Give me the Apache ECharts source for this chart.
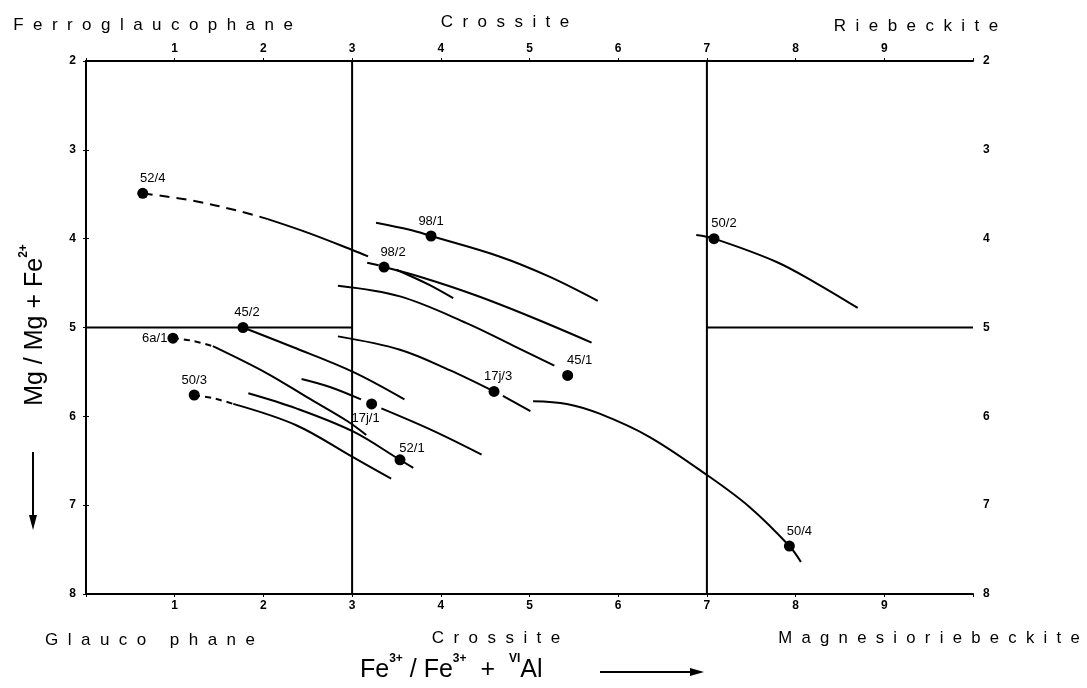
<!DOCTYPE html>
<html><head><meta charset="utf-8">
<script src="https://cdn.jsdelivr.net/npm/echarts@6/dist/echarts.min.js"></script>
<style>html,body{margin:0;padding:0;background:#fff}#c{width:1087px;height:688px}</style>
</head><body><div id="c"></div><script>
// ---- data ----
const xTickLabels = [1,2,3,4,5,6,7,8,9];
const yTickLabels = [2,3,4,5,6,7,8];
const topFieldNames = ['Ferroglaucophane','Crossite','Riebeckite'];
const bottomFieldNames = ['Glauco phane','Crossite','Magnesioriebeckite'];

const boundaryX3 = [[3,2],[3,8]];
const boundaryX7 = [[7,2],[7,8]];
const boundaryY5Left = [[0,5],[3,5]];
const boundaryY5Right = [[7,5],[10,5]];

const sampleNames = ['52/4','98/1','98/2','45/2','6a/1','50/3','17j/1','52/1','17j/3','45/1','50/2','50/4'];
const sampleX = [0.64,3.89,3.36,1.77,0.98,1.22,3.22,3.54,4.60,5.43,7.08,7.93];
const sampleY = [3.49,3.97,4.32,5.00,5.12,5.76,5.86,6.49,5.72,5.54,4.00,7.46];

const curve52_4Dashed = [[0.64,3.49],[1.19,3.57],[1.73,3.69],[2.05,3.78]];
const curve52_4Solid = [[2.05,3.78],[2.52,3.94],[3.01,4.13],[3.18,4.20]];
const curve52_4Tail = [[3.17,4.27],[3.30,4.30]];
const curve98_1 = [[3.27,3.82],[3.65,3.90],[3.89,3.97],[4.66,4.20],[5.23,4.43],[5.77,4.70]];
const curve98_2Upper = [[3.36,4.32],[3.80,4.44],[4.40,4.64],[5.04,4.89],[5.70,5.17]];
const curve98_2Lower = [[3.50,4.35],[3.87,4.52],[4.14,4.67]];
const curve45_1 = [[2.84,4.53],[3.54,4.65],[4.29,4.95],[4.85,5.22],[5.28,5.43]];
const curve17j_3 = [[2.84,5.10],[3.54,5.25],[4.10,5.48],[4.60,5.72]];
const curve17j_3Tail = [[4.70,5.77],[5.01,5.94]];
const curve50_4 = [[5.04,5.83],[5.42,5.86],[5.79,5.97],[6.35,6.23],[7.00,6.66],[7.48,7.02],[7.93,7.46],[8.06,7.64]];
const curve50_2 = [[6.88,3.96],[7.08,4.00],[7.78,4.26],[8.23,4.50],[8.70,4.78]];
const curve45_2 = [[1.77,5.00],[2.33,5.22],[3.01,5.50],[3.59,5.81]];
const curve6a_1Dashed = [[0.98,5.12],[1.20,5.15],[1.43,5.21]];
const curve6a_1Solid = [[1.43,5.21],[2.03,5.51],[2.50,5.79],[2.94,6.05],[3.16,6.21]];
const curve52_1 = [[1.83,5.74],[2.37,5.91],[3.01,6.17],[3.54,6.49],[3.69,6.58]];
const curve50_3Dashed = [[1.22,5.76],[1.45,5.80],[1.66,5.86]];
const curve50_3Solid = [[1.66,5.86],[2.37,6.10],[3.01,6.46],[3.44,6.70]];
const curve17j_1Lead = [[2.43,5.58],[2.75,5.67],[3.10,5.81]];
const curve17j_1Trail = [[3.33,5.91],[3.91,6.16],[4.46,6.43]];

// ---- styling (separate from data) ----
const FONT = '"Liberation Sans", Arial, sans-serif';
const labelPlacement = {
  '52/4':{position:'top',offset:[10,0]},
  '98/1':{position:'top',offset:[0,0]},
  '98/2':{position:'top',offset:[9,0]},
  '45/2':{position:'top',offset:[4,0]},
  '6a/1':{position:'left',offset:[3,0]},
  '50/3':{position:'top',offset:[0,0]},
  '17j/1':{position:'bottom',offset:[-6,0]},
  '52/1':{position:'top',offset:[12,4]},
  '17j/3':{position:'top',offset:[4,0]},
  '45/1':{position:'top',offset:[12,0]},
  '50/2':{position:'top',offset:[10,0]},
  '50/4':{position:'top',offset:[10,0]}
};
const spaced = s => s.split('').join('  ');

const chart = echarts.init(document.getElementById('c'), null, {renderer:'canvas'});

function curve(data, dashed, dash){
  return {type:'line', data, smooth:0.35, symbol:'none', silent:true, z:3,
    lineStyle:{color:'#000', width:2, opacity:1, type: dashed ? (dash||[9,6]) : 'solid'}};
}
function boundary(data){
  return {type:'line', data, symbol:'none', silent:true, z:2,
    lineStyle:{color:'#000', width:2}};
}

const xAxisBase = {
  type:'value', min:0, max:10, interval:1,
  axisLine:{show:true, lineStyle:{color:'#000', width:2}},
  axisTick:{show:true, length:3, lineStyle:{color:'#000', width:1}},
  splitLine:{show:false},
  axisLabel:{color:'#000', fontSize:12, fontWeight:'bold', fontFamily:FONT, margin:6,
    formatter: v => xTickLabels.includes(v) ? String(v) : ''}
};
const yAxisBase = {
  type:'value', min:2, max:8, interval:1, inverse:true,
  axisLine:{show:true, lineStyle:{color:'#000', width:2}},
  axisTick:{show:true, length:3, lineStyle:{color:'#000', width:1}},
  splitLine:{show:false},
  axisLabel:{color:'#000', fontSize:12, fontWeight:'bold', fontFamily:FONT, margin:10,
    formatter: v => yTickLabels.includes(v) ? String(v) : ''}
};

const scatterData = sampleNames.map((n,i)=>({
  value:[sampleX[i], sampleY[i]], name:n,
  label:{show:true, formatter:n, position:labelPlacement[n].position, offset:labelPlacement[n].offset,
    distance:3, color:'#000', opacity:1, fontSize:13, fontFamily:FONT}
}));

const textTop = 25, textBottom = 640;
const fieldStyle = (t) => ({text:spaced(t), font:'17px '+FONT, fill:'#000', align:'center', verticalAlign:'middle', textAlign:'center', textVerticalAlign:'middle'});
const option = {
  backgroundColor:'#fff',
  animation:false,
  grid:{left:86, right:114, top:61, bottom:94, containLabel:false},
  xAxis:[Object.assign({position:'bottom'}, xAxisBase), Object.assign({position:'top'}, xAxisBase)],
  yAxis:[Object.assign({position:'left'}, yAxisBase), Object.assign({position:'right'}, yAxisBase)],
  series:[
    boundary(boundaryX3), boundary(boundaryX7), boundary(boundaryY5Left), boundary(boundaryY5Right),
    curve(curve52_4Dashed, true, [10,7]), curve(curve52_4Solid), curve(curve52_4Tail),
    curve(curve98_1), curve(curve98_2Upper), curve(curve98_2Lower),
    curve(curve45_1), curve(curve17j_3), curve(curve17j_3Tail),
    curve(curve50_4), curve(curve50_2), curve(curve45_2),
    curve(curve6a_1Dashed, true, [6,5]), curve(curve6a_1Solid),
    curve(curve52_1),
    curve(curve50_3Dashed, true, [6,5]), curve(curve50_3Solid),
    curve(curve17j_1Lead), curve(curve17j_1Trail),
    {type:'scatter', data:scatterData, symbol:'circle', symbolSize:11, z:5, silent:true,
      itemStyle:{color:'#000', opacity:1}}
  ],
  graphic:[
    {type:'text', x:153, y:textTop, style:fieldStyle(topFieldNames[0])},
    {type:'text', x:505, y:textTop-3, style:fieldStyle(topFieldNames[1])},
    {type:'text', x:916, y:textTop+1, style:fieldStyle(topFieldNames[2])},
    {type:'text', x:150, y:textBottom, style:fieldStyle(bottomFieldNames[0])},
    {type:'text', x:496, y:textBottom-2, style:fieldStyle(bottomFieldNames[1])},
    {type:'text', x:929, y:textBottom-2, style:Object.assign(fieldStyle(bottomFieldNames[2]), {font:'16.7px '+FONT})},
    // x axis title
    {type:'text', x:360, y:668, style:{
      text:'{b|Fe}{s|3+}{b| / Fe}{s|3+}{b|  +  }{s|VI}{b|Al}',
      align:'left', verticalAlign:'middle', textAlign:'left', textVerticalAlign:'middle', fill:'#000',
      rich:{b:{fontSize:25, fontFamily:FONT, fill:'#000', color:'#000', lineHeight:30, verticalAlign:'bottom'},
            s:{fontSize:12, fontFamily:FONT, fill:'#000', color:'#000', lineHeight:30, verticalAlign:'top', fontWeight:'bold'}}}},
    {type:'line', shape:{x1:600, y1:672, x2:695, y2:672}, style:{stroke:'#000', lineWidth:2}},
    {type:'polygon', shape:{points:[[704,672],[690,668],[690,676]]}, style:{fill:'#000'}},
    // y axis title
    {type:'text', x:33, y:325, rotation:Math.PI/2, style:{
      text:'{b|Mg / Mg + Fe}{s|2+}',
      align:'center', verticalAlign:'middle', textAlign:'center', textVerticalAlign:'middle', fill:'#000',
      rich:{b:{fontSize:25, fontFamily:FONT, fill:'#000', color:'#000', lineHeight:30, verticalAlign:'bottom'},
            s:{fontSize:12, fontFamily:FONT, fill:'#000', color:'#000', lineHeight:30, verticalAlign:'top', fontWeight:'bold'}}}},
    {type:'line', shape:{x1:33, y1:452, x2:33, y2:518}, style:{stroke:'#000', lineWidth:2}},
    {type:'polygon', shape:{points:[[33,530],[29,515],[37,515]]}, style:{fill:'#000'}}
  ]
};
chart.setOption(option);
</script></body></html>
